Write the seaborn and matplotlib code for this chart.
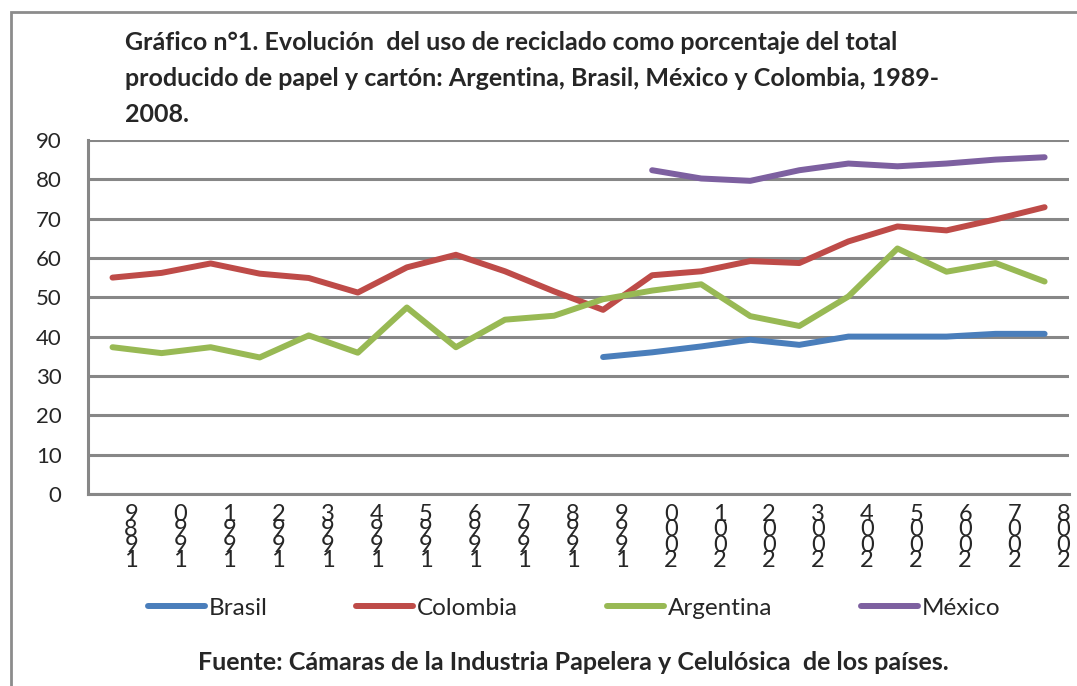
"""Recycled fibre share of paper and board production, 1989-2008."""
import matplotlib
matplotlib.use("Agg")
import matplotlib.pyplot as plt
import numpy as np
import pandas as pd
import seaborn as sns
from matplotlib.patches import Rectangle

years = list(range(1989, 2009))

brasil_years = list(range(1999, 2009))
brasil = [34.8, 36.0, 37.5, 39.2, 37.9, 40.0, 40.0, 40.0, 40.7, 40.7]

colombia_years = years
colombia = [55.0, 56.2, 58.6, 56.0, 54.9, 51.2, 57.6, 60.8, 56.6, 51.5,
            46.8, 55.6, 56.6, 59.2, 58.7, 64.2, 68.0, 67.0, 69.8, 72.9]

argentina_years = years
argentina = [37.3, 35.8, 37.3, 34.7, 40.3, 35.9, 47.4, 37.3, 44.3, 45.3,
             49.5, 51.7, 53.3, 45.2, 42.7, 50.2, 62.4, 56.5, 58.7, 54.0]

mexico_years = list(range(2000, 2009))
mexico = [82.3, 80.2, 79.6, 82.3, 84.0, 83.3, 84.0, 85.0, 85.6]

countries = ["Brasil", "Colombia", "Argentina", "México"]
colors = ["#4a7ebb", "#be4b48", "#98b954", "#7d60a0"]

title = ("Gráfico n°1. Evolución  del uso de reciclado como porcentaje del total\n"
         "producido de papel y cartón: Argentina, Brasil, México y Colombia, 1989-\n"
         "2008.")
source = "Fuente: Cámaras de la Industria Papelera y Celulósica  de los países."

frames = []
for name, yrs, vals in [("Brasil", brasil_years, brasil),
                        ("Colombia", colombia_years, colombia),
                        ("Argentina", argentina_years, argentina),
                        ("México", mexico_years, mexico)]:
    frames.append(pd.DataFrame({"year": yrs, "value": vals, "country": name}))
df = pd.concat(frames, ignore_index=True)

sns.set_style("white")
plt.rcParams["font.family"] = ["Lato", "DejaVu Sans"]

grey = "#878787"
fig = plt.figure(figsize=(10.77, 6.86), dpi=100)
ax = fig.add_axes([0.0817, 0.280, 0.9110, 0.516])

sns.lineplot(data=df, x="year", y="value", hue="country", hue_order=countries,
             palette=dict(zip(countries, colors)), linewidth=4.3, ax=ax,
             solid_capstyle="round", solid_joinstyle="round")

ax.set_xlim(years[0] - 0.5, years[-1] + 0.5)
ax.set_ylim(0, 90)
ax.set_yticks(range(0, 91, 10))
ax.yaxis.grid(True, color=grey, linewidth=2.2)
ax.set_axisbelow(True)
ax.set_xlabel("")
ax.set_ylabel("")

# category boundaries carry the tick marks, labels sit inside each category
ax.set_xticks(np.arange(years[0] - 0.5, years[-1] + 1.0, 1.0))
ax.set_xticklabels([])
ax.set_xticks(np.array(years) + 0.38, minor=True)
ax.set_xticklabels(["\n".join(reversed(str(y))) for y in years], minor=True,
                   fontsize=17, linespacing=0.68, va="top")
ax.tick_params(axis="x", which="major", length=6, width=2.2, color=grey,
               direction="out")
ax.tick_params(axis="x", which="minor", length=0, pad=7)
ax.tick_params(axis="y", length=7, width=2.2, color=grey, direction="out",
               labelsize=16, pad=12)

for side in ("top", "right"):
    ax.spines[side].set_visible(False)
for side in ("left", "bottom"):
    ax.spines[side].set_color(grey)
    ax.spines[side].set_linewidth(2.2)

handles, labels = ax.get_legend_handles_labels()
ax.legend_.remove()
fig.legend(handles, labels, loc="center", bbox_to_anchor=(0.533, 0.113),
           ncol=4, frameon=False, fontsize=17.5, handlelength=2.35,
           handletextpad=0.15, columnspacing=3.65)

fig.text(0.116, 0.955, title, ha="left", va="top", fontsize=18,
         fontweight="bold", linespacing=1.7)
fig.text(0.532, 0.034, source, ha="center", va="center", fontsize=18,
         fontweight="bold")

fig.add_artist(Rectangle((0.0102, -0.05), 1.2, 0.9825 + 0.05,
                         transform=fig.transFigure, fill=False,
                         edgecolor="#8c8c8c", linewidth=2.0))

fig.savefig("out.png", dpi=100)
